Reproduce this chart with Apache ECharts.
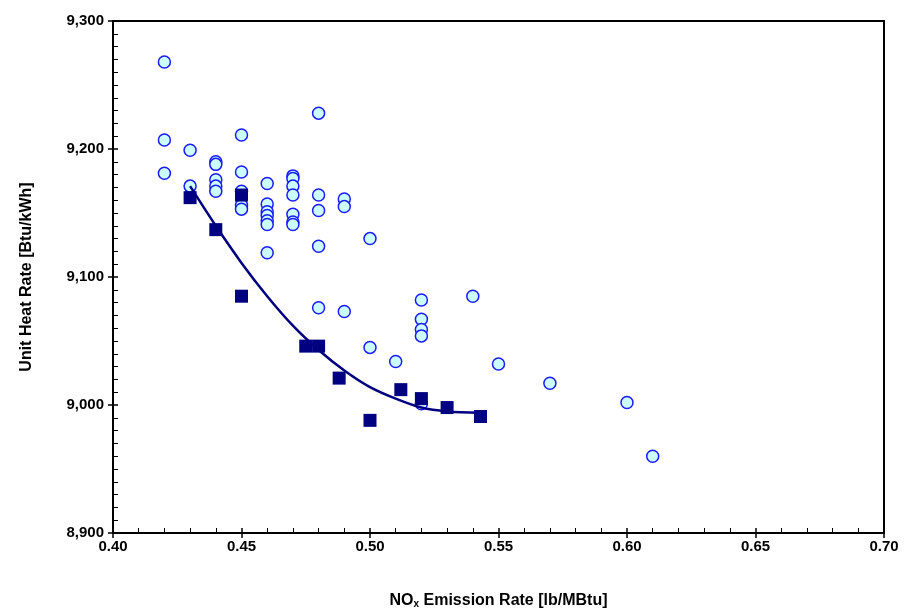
<!DOCTYPE html>
<html>
<head>
<meta charset="utf-8">
<script src="https://cdn.jsdelivr.net/npm/echarts@6/dist/echarts.min.js"></script>
<style>
html,body{margin:0;padding:0;background:#fff;}
#chart{width:907px;height:614px;}
</style>
</head>
<body>
<div id="chart"></div>
<script>
// Unit data (open circles)
var unitX = [0.42,0.42,0.42, 0.43,0.43, 0.44,0.44,0.44,0.44,0.44, 0.45,0.45,0.45,0.45,0.45,
  0.46,0.46,0.46,0.46,0.46,0.46,0.46, 0.47,0.47,0.47,0.47,0.47,0.47,0.47,
  0.48,0.48,0.48,0.48,0.48, 0.49,0.49,0.49, 0.50,0.50, 0.51,
  0.52,0.52,0.52,0.52,0.52, 0.54, 0.55, 0.57, 0.60, 0.61];
var unitY = [9268,9207,9181, 9199,9171, 9190,9188,9176,9171,9167, 9211,9182,9167,9156,9153,
  9173,9157,9151,9148,9144,9141,9119, 9179,9177,9171,9164,9149,9143,9141,
  9228,9164,9152,9124,9076, 9161,9155,9073, 9130,9045, 9034,
  9082,9067,9059,9054,9001, 9085, 9032, 9017, 9002, 8960];
// Optimized data (filled squares)
var optX = [0.43,0.44,0.45,0.45,0.475,0.48,0.488,0.50,0.512,0.52,0.53,0.543];
var optY = [9162,9137,9164,9085,9046,9046,9021,8988,9012,9005,8998,8991];
// Trend curve
var trendX = [0.43,0.44,0.45,0.46,0.47,0.48,0.49,0.50,0.51,0.52,0.53,0.543];
var trendY = [9171,9140,9111,9085,9062,9043,9027,9014,9005,8998,8995,8994];
// Axis ticks
var xTicks = [0.40,0.45,0.50,0.55,0.60,0.65,0.70];
var yTicks = [8900,9000,9100,9200,9300];

function zip(a,b){return a.map(function(v,i){return [v,b[i]];});}

var font = 'Liberation Sans, Arial, sans-serif';
var chart = echarts.init(document.getElementById('chart'));
var axisLineStyle = {color:'#000', width:2};
var option = {
  animation:false,
  backgroundColor:'#fff',
  grid:{left:113, top:21, right:23, bottom:75, show:true, borderColor:'#000', borderWidth:2, backgroundColor:'transparent'},
  xAxis:[{
    type:'value', min:xTicks[0], max:xTicks[xTicks.length-1], interval:0.05, position:'bottom',
    axisLine:{show:true, onZero:false, lineStyle:axisLineStyle},
    axisTick:{show:true, inside:false, length:5, lineStyle:{color:'#000', width:1.5}},
    splitLine:{show:false},
    axisLabel:{margin:6, color:'#000', fontFamily:font, fontWeight:'bold', fontSize:15,
      formatter:function(v){return v.toFixed(2);}},
    name:'{a|NO}{s|x}{a| Emission Rate [lb/MBtu]}', nameLocation:'middle', nameGap:56,
    nameTextStyle:{rich:{
      a:{fontFamily:font, fontWeight:'bold', fontSize:16, color:'#000', lineHeight:20, verticalAlign:'bottom'},
      s:{fontFamily:font, fontWeight:'bold', fontSize:10, color:'#000', lineHeight:14, verticalAlign:'bottom', padding:[0,0,0,0]}
    }}
  },{
    type:'value', min:xTicks[0], max:xTicks[xTicks.length-1], interval:0.05, position:'bottom',
    axisLine:{show:false, onZero:false},
    axisTick:{show:true, inside:true, length:5, lineStyle:{color:'#000', width:1.5}},
    minorTick:{show:true, splitNumber:5, length:5, lineStyle:{color:'#000', width:1}},
    axisLabel:{show:false}, splitLine:{show:false}
  }],
  yAxis:[{
    type:'value', min:yTicks[0], max:yTicks[yTicks.length-1], interval:100, position:'left',
    axisLine:{show:true, onZero:false, lineStyle:axisLineStyle},
    axisTick:{show:true, inside:false, length:5, lineStyle:{color:'#000', width:1.5}},
    splitLine:{show:false},
    axisLabel:{margin:9, color:'#000', fontFamily:font, fontWeight:'bold', fontSize:15,
      formatter:function(v){return v.toLocaleString('en-US');}},
    name:'Unit Heat Rate [Btu/kWh]', nameLocation:'middle', nameGap:78,
    nameTextStyle:{fontFamily:font, fontWeight:'bold', fontSize:16, color:'#000'}
  },{
    type:'value', min:yTicks[0], max:yTicks[yTicks.length-1], interval:100, position:'left', offset:0,
    axisLine:{show:false, onZero:false},
    axisTick:{show:true, inside:true, length:5, lineStyle:{color:'#000', width:1.5}},
    minorTick:{show:true, splitNumber:10, length:5, lineStyle:{color:'#000', width:1}},
    axisLabel:{show:false}, splitLine:{show:false}
  }],
  series:[{
    type:'scatter', data:zip(unitX,unitY), symbol:'circle', symbolSize:12, z:2,
    itemStyle:{color:'#ccffff', borderColor:'#1a1aff', borderWidth:1.5, opacity:1}
  },{
    type:'line', data:zip(trendX,trendY), smooth:0.3, showSymbol:false, symbol:'none', z:3,
    lineStyle:{color:'#000080', width:2.5}
  },{
    type:'scatter', data:zip(optX,optY), symbol:'rect', symbolSize:13, z:4,
    itemStyle:{color:'#000080', opacity:1}
  }]
};
chart.setOption(option);
</script>
</body>
</html>
